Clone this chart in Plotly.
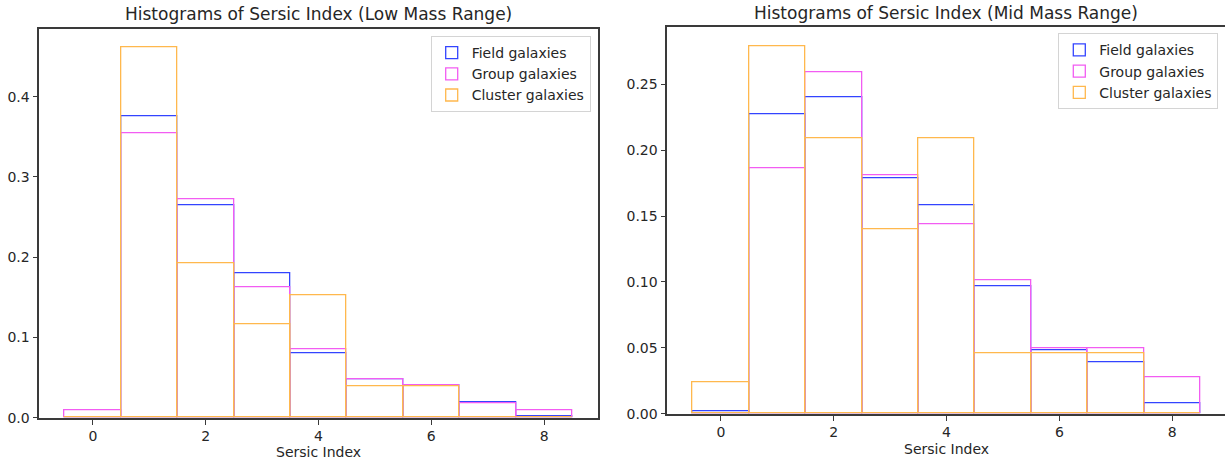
import plotly.graph_objects as go

# ---- data ----
bins = [0, 1, 2, 3, 4, 5, 6, 7, 8]
x_ticks = [0, 2, 4, 6, 8]

low_field   = [0.000, 0.375, 0.265, 0.180, 0.080, 0.048, 0.040, 0.019, 0.002]
low_group   = [0.009, 0.354, 0.272, 0.162, 0.085, 0.048, 0.041, 0.018, 0.009]
low_cluster = [0.000, 0.461, 0.193, 0.116, 0.153, 0.039, 0.039, 0.000, 0.000]

mid_field   = [0.002, 0.227, 0.240, 0.179, 0.158, 0.097, 0.048, 0.039, 0.008]
mid_group   = [0.000, 0.186, 0.259, 0.181, 0.144, 0.101, 0.050, 0.050, 0.028]
mid_cluster = [0.024, 0.279, 0.209, 0.140, 0.209, 0.046, 0.046, 0.046, 0.000]

series_names = ["Field galaxies", "Group galaxies", "Cluster galaxies"]
titles = ["Histograms of Sersic Index (Low Mass Range)",
          "Histograms of Sersic Index (Mid Mass Range)"]
x_title = "Sersic Index"
low_yticks = [0.0, 0.1, 0.2, 0.3, 0.4]
mid_yticks = [0.00, 0.05, 0.10, 0.15, 0.20, 0.25]

colors = ["#3344ff", "#f25cf2", "#ffb84d"]

W, H = 1225, 463
FONT = "DejaVu Sans"
TXT = "#262626"
AX = "#3a3a3a"

fig = go.Figure()

panels = [
    (["x", "y"], [low_field, low_group, low_cluster], "legend"),
    (["x2", "y2"], [mid_field, mid_group, mid_cluster], "legend2"),
]
for (xa, ya), data, leg in panels:
    for name, vals, col in zip(series_names, data, colors):
        fig.add_trace(go.Bar(
            x=bins, y=vals, width=1.0, name=name,
            xaxis=xa, yaxis=ya, legend=leg,
            marker=dict(color="rgba(0,0,0,0)", line=dict(color=col, width=1.3)),
            hoverinfo="x+y",
        ))

axis_common = dict(
    showgrid=False, zeroline=False, showline=True, linecolor=AX, linewidth=1.6,
    ticks="outside", ticklen=5, tickwidth=1, tickcolor=AX, automargin=False,
    layer="above traces",
    tickfont=dict(family=FONT, size=14, color=TXT),
)

fig.update_layout(
    width=W, height=H, autosize=False,
    margin=dict(l=0, r=0, t=0, b=0, pad=0, autoexpand=False),
    paper_bgcolor="white", plot_bgcolor="white",
    barmode="overlay", bargap=0,
    font=dict(family=FONT, size=14, color=TXT),
    xaxis=dict(domain=[39.3 / W, 597.7 / W], range=[-0.95, 8.95],
               tickvals=x_ticks, mirror=True, anchor="y", **axis_common),
    yaxis=dict(domain=[(H - 417.7) / H, (H - 29.3) / H], range=[0, 0.484],
               tickvals=low_yticks, tickformat=".1f", mirror=True, anchor="x",
               **axis_common),
    xaxis2=dict(domain=[667.3 / W, 1.0], range=[-0.95, 8.935],
                tickvals=x_ticks, mirror=True, anchor="y2", **axis_common),
    yaxis2=dict(domain=[(H - 413.7) / H, (H - 27.3) / H], range=[0, 0.2933],
                tickvals=mid_yticks, tickformat=".2f", mirror=False, anchor="x2",
                **axis_common),
    legend=dict(x=590.7 / W, y=(H - 36) / H, xanchor="right", yanchor="top",
                bgcolor="rgba(255,255,255,0.85)", bordercolor="#d4d4d4", borderwidth=1,
                font=dict(family=FONT, size=14, color=TXT), tracegroupgap=0),
    legend2=dict(x=1218.3 / W, y=(H - 33.3) / H, xanchor="right", yanchor="top",
                 bgcolor="rgba(255,255,255,0.85)", bordercolor="#d4d4d4", borderwidth=1,
                 font=dict(family=FONT, size=14, color=TXT), tracegroupgap=0),
    showlegend=True,
)

for title, cx, ty in [(titles[0], (39.3 + 597.7) / 2, 14), (titles[1], (667.3 + 1225) / 2, 13)]:
    fig.add_annotation(text=title, x=cx / W, y=(H - ty) / H, xref="paper", yref="paper",
                       showarrow=False, xanchor="center", yanchor="middle",
                       font=dict(family=FONT, size=17, color=TXT))
for cx, ty in [((39.3 + 597.7) / 2, 452), ((667.3 + 1225) / 2, 449)]:
    fig.add_annotation(text=x_title, x=cx / W, y=(H - ty) / H, xref="paper", yref="paper",
                       showarrow=False, xanchor="center", yanchor="middle",
                       font=dict(family=FONT, size=14, color=TXT))

fig.write_html(
    "out.html",
    config={"displayModeBar": False},
    post_script="document.body.style.margin='0';document.body.style.overflow='hidden';",
)
